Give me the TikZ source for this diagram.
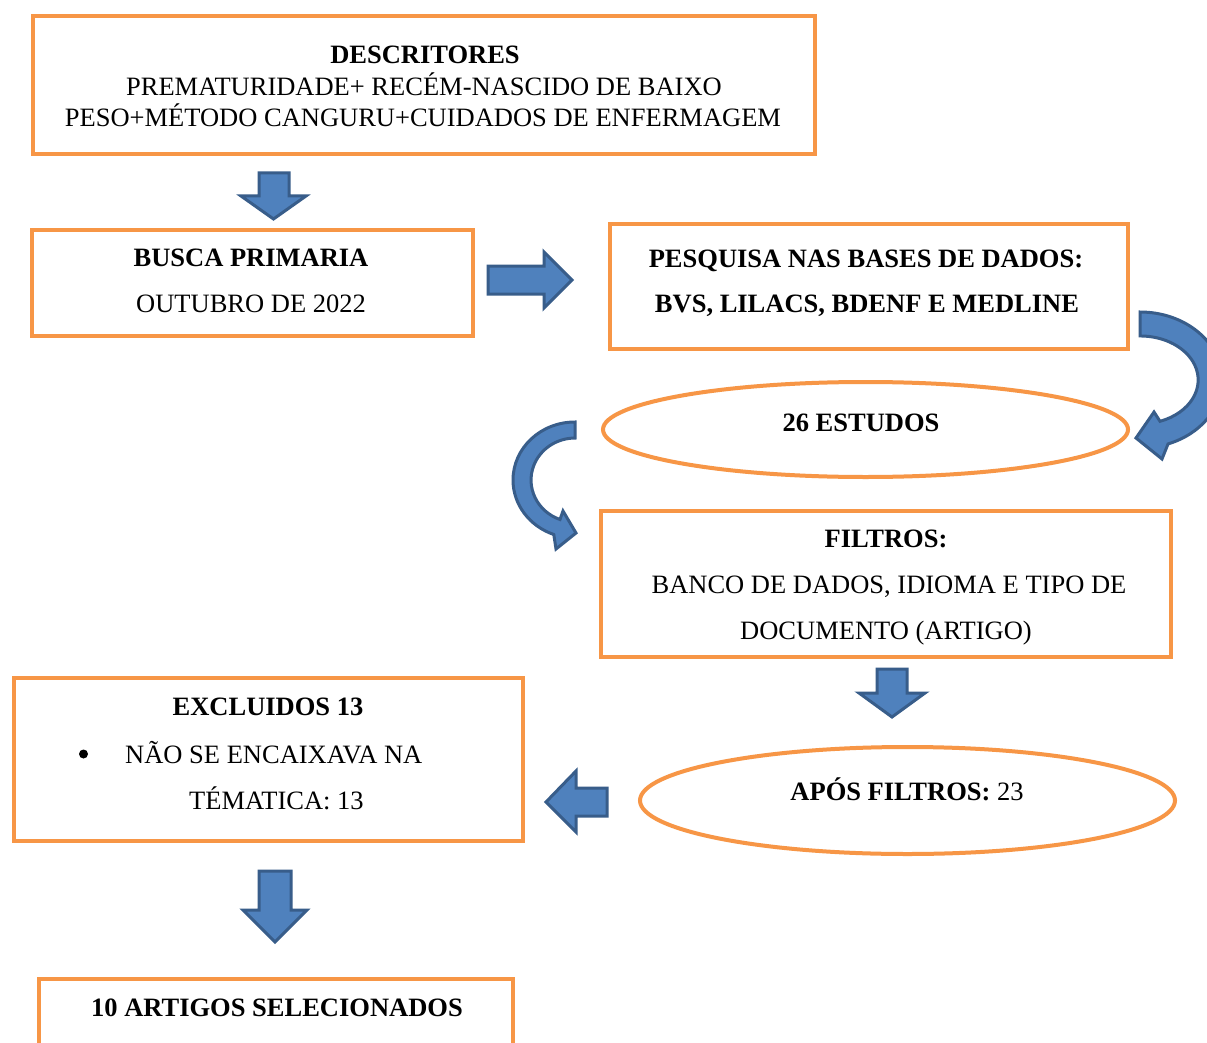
\documentclass[tikz,border=0pt]{standalone}
\usepackage{fontspec}
\setmainfont{Liberation Serif}
\usetikzlibrary{shapes.geometric}
\definecolor{boxorange}{HTML}{F79646}
\definecolor{arrfill}{HTML}{4F81BD}
\definecolor{arrline}{HTML}{385D8A}
\begin{document}
\begin{tikzpicture}[x=1pt,y=-1pt,
  box/.style={draw=boxorange, line width=4pt, rectangle, inner sep=0pt},
  oval/.style={draw=boxorange, line width=4pt, ellipse, inner sep=0pt},
  txt/.style={anchor=base, inner sep=0pt, font=\fontsize{26.5}{32}\selectfont},
  blockarrow/.style={fill=arrfill, draw=arrline, line width=3pt, line join=miter}]
\useasboundingbox (0,0) rectangle (1207,1043);
\clip (0,0) rectangle (1207,1043);
\fill[white] (0,0) rectangle (1207,1043);

% boxes and ovals
\node[box, minimum width=782pt, minimum height=138pt] (desc) at (424,85) {};
\node[box, minimum width=441pt, minimum height=106pt] (busca) at (252.5,283) {};
\node[box, minimum width=518pt, minimum height=125pt] (pesq) at (869,286.5) {};
\node[oval, minimum width=525pt, minimum height=95pt] (estudos) at (865.5,429.5) {};
\node[box, minimum width=570pt, minimum height=146pt] (filtros) at (886,584) {};
\node[box, minimum width=509pt, minimum height=163pt] (excl) at (268.5,759.5) {};
\node[oval, minimum width=535pt, minimum height=107pt] (apos) at (907.5,800.5) {};
\node[box, minimum width=474pt, minimum height=90pt] (final) at (276,1024) {};

% texts
\node[txt] (d1) at (425,64) {\textbf{DESCRITORES}};
\node[txt] (d2) at (424,96) {PREMATURIDADE+ RECÉM-NASCIDO DE BAIXO};
\node[txt] (d3) at (423,127) {PESO+MÉTODO CANGURU+CUIDADOS DE ENFERMAGEM};
\node[txt] (b1) at (251,266) {\textbf{BUSCA PRIMARIA}};
\node[txt] (b2) at (251,312) {OUTUBRO DE 2022};
\node[txt] (p1) at (866,267) {\textbf{PESQUISA NAS BASES DE DADOS:}};
\node[txt] (p2) at (867,312) {\textbf{BVS, LILACS, BDENF E MEDLINE}};
\node[txt] (e1) at (861,431) {\textbf{26 ESTUDOS}};
\node[txt] (f1) at (886,547) {\textbf{FILTROS:}};
\node[txt] (f2) at (889,593) {BANCO DE DADOS, IDIOMA E TIPO DE};
\node[txt] (f3) at (886,639) {DOCUMENTO (ARTIGO)};
\node[txt] (x1) at (268,715) {\textbf{EXCLUIDOS 13}};
\node[circle, fill=black, inner sep=0pt, minimum size=9pt] (xb) at (83.5,754) {};
\node[txt, anchor=base west] (x2) at (125,763) {NÃO SE ENCAIXAVA NA};
\node[txt, anchor=base west] (x3) at (189,809) {TÉMATICA: 13};
\node[txt] (a1) at (907,800) {\textbf{APÓS FILTROS:} 23};
\node[txt] (s1) at (277,1016) {\textbf{10 ARTIGOS SELECIONADOS}};

% straight block arrows
\draw[blockarrow] (259,173) -- (289,173) -- (289,196) -- (306,196) -- (273.5,219) -- (241,196) -- (259,196) -- cycle;
\draw[blockarrow] (488,266) -- (544,266) -- (544,252) -- (572,280) -- (544,308) -- (544,294) -- (488,294) -- cycle;
\draw[blockarrow] (877,669) -- (907,669) -- (907,693) -- (925,693) -- (892,717) -- (859,693) -- (877,693) -- cycle;
\draw[blockarrow] (607,788) -- (576,788) -- (576,771) -- (546,802) -- (576,832) -- (576,816) -- (607,816) -- cycle;
\draw[blockarrow] (259,871) -- (291,871) -- (291,910) -- (307,910) -- (275,942) -- (243,910) -- (259,910) -- cycle;

% curved block arrows
\draw[blockarrow] (1140,312) arc[start angle=-90, end angle=70, x radius=82, y radius=68]
  -- (1162,459) -- (1136,438) -- (1154,412) -- (1160,421.3)
  arc[start angle=70, end angle=-90, x radius=58, y radius=44] -- cycle;
\draw[blockarrow] (575,422) arc[start angle=-90, end angle=-250, x radius=62, y radius=58]
  -- (556,549) -- (576,533) -- (563,511) -- (560,519.5)
  arc[start angle=-250, end angle=-90, x radius=44, y radius=42] -- cycle;
\end{tikzpicture}
\end{document}
